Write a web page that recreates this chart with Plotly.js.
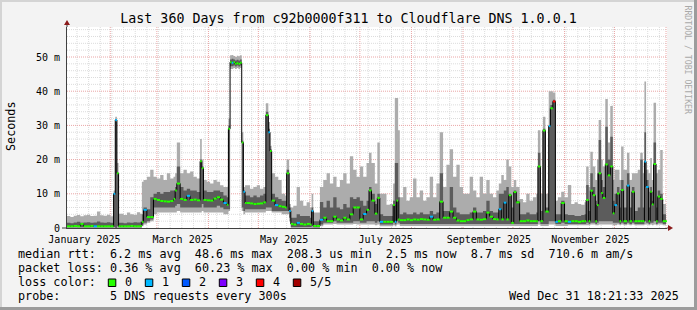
<!DOCTYPE html>
<html><head><meta charset="utf-8">
<script src="https://cdn.plot.ly/plotly-3.0.1.min.js"></script>
<style>html,body{margin:0;padding:0;background:#f3f3f3}#chart{width:697px;height:310px}</style>
</head><body><div id="chart"></div>
<script>
// ---- data (day offsets from 2025-01-06, values in ms) ----
const day = [
 0,2,4,6,8,10,12,14,16,18,20,22,24,26,
 28,29,30,31,
 32,34,36,38,40,42,44,
 45,46,48,50,
 52,54,56,58,60,62,64,65,66,68,70,72,74,76,78,80,81,82,84,86,88,90,92,94,96,
 97,98,99,100,101,102,103,104,105,106,107,
 108,110,112,114,116,118,
 119.5,121,122,
 123,125,127,129,131,132,133.5,
 134.5,136,138,140,142,144,146,147,148,150,152,154,156,158,160,162,164,166,168,170,172,174,176,178,180,
 181.5,183,185,186.5,188,190,192,194,196,197,198,199,
 200,202,204,206,208,210,212,214,216,218,220,222,224,226,228,230,232,234,236,238,
 240,242,244,246,248,250,252,254,256,258,259.5,261,262.5,264,265.5,267,268.5,270,272,274,276,278,280,282,
 283,284.5,286,287.5,289.5,290.5,292,293.5,295,297,299,
 301,303,305,307,309,311,312,313.5,314.5,316,317.5,318.5,319.5,321,322,323.5,325,326.5,328,329,330.5,332,333,334.5,336.5,338,339.5,341,343,344.5,346,347,348,349.5,350.5,351.5,352.5,354,355,356.5,358,360
];
const median = [
 0.5,0.5,0.6,0.5,1.2,0.5,0.5,0.6,0.5,0.5,0.5,0.5,0.5,0.5,
 10,31.6,16,0.5,
 0.5,0.5,0.5,0.6,0.5,0.5,0.6,
 1.8,5.3,3.2,3.2,
 8.5,8.2,7.9,7.8,7.7,7.9,8.5,11,13,8.5,8.2,9.4,8.2,8.3,8.1,19.5,17.5,8.2,8.1,8.0,8.6,9,8.3,7.3,6.8,
 29,48.5,48.3,48.5,48,48.2,48,48.3,25,10.6,7.3,
 7.3,7.2,7.0,7.1,7.2,7.5,
 33,28,22.5,
 8,6.7,6.4,6.2,6.0,16,5,
 1.2,1.0,1.5,1.2,1.0,1.2,1.0,5,0.6,0.6,2.4,3,2,2,3.3,2.5,2.2,3,2.5,4,6,6,2.5,4.1,5.3,
 11,8,4.2,8.8,1.8,1.8,1.8,1.8,6.7,1.8,8,2.5,
 2.3,2.3,2.5,2.3,2.5,2.4,2.6,2.5,2.4,3.3,2.4,2.5,7.7,3,3,4.8,3,2.2,2,2,
 2.3,2.5,4.8,2.5,2.4,2.6,4.5,3.3,2.6,2.5,5.5,2.5,7.4,2.5,9.6,1.5,10.5,7.5,2.0,2.0,2.2,2.0,2.0,2.0,
 18,2,28.5,4.8,29.8,35,37,1.8,2,7.3,2,
 1.8,2,2,1.8,2,2,8.2,2,10.9,9.6,2,6.7,16,10.2,8.8,18.6,15.4,18,4.3,6.7,10.1,2,11.1,2,12.4,2,10.6,2,2,2,2,19.4,12,2,10.6,6.9,18.7,2,9.2,8.5,2,2
];
const lossCount = [
 0,0,0,0,0,0,0,0,1,0,0,0,0,0,
 1,1,0,0,
 0,0,0,0,0,0,0,
 0,1,0,0,
 0,0,0,0,0,0,0,0,0,0,0,1,0,0,0,0,0,0,0,0,0,0,0,1,0,
 0,0,1,0,0,0,0,0,0,1,0,
 0,0,0,0,0,0,
 0,1,0,
 0,1,0,0,0,0,1,
 0,0,1,0,0,0,0,1,0,0,1,0,0,0,0,0,0,0,0,0,0,0,0,1,0,
 0,0,0,0,1,0,0,0,0,1,0,0,
 0,0,0,0,0,0,0,0,0,1,0,0,0,0,0,0,0,0,0,0,
 0,0,0,0,0,0,0,0,0,0,1,0,1,0,0,0,0,0,0,0,0,0,0,0,
 0,0,0,0,1,0,4,1,0,0,0,
 1,0,0,0,0,0,0,0,0,0,0,0,0,0,0,0,0,0,0,1,0,0,0,0,1,0,0,0,0,0,0,1,1,0,0,0,0,0,0,0,0,0
];
const smokeLightLo = [
 0,0,0,0,0,0,0,0,0,0,0,0,0,0,
 0,0,0,0,
 0,0,0,0,0,0,0,
 0.5,1,1.5,2,
 4,4.5,4.5,4.5,4.5,4.5,4.5,4.5,5,4.5,4.5,4.5,4.5,4.5,4.5,4.5,5,4.5,4.5,4.5,4.5,4.5,4.5,4,4,
 5,46.5,46.5,46.8,46.5,46.8,46.5,46.8,5,4,4.5,
 4.5,4.5,4.5,4.5,4.5,4.5,
 5,5,5,
 4.5,4.5,4.5,4,4,4,2,
 0,0,0,0,0,0,0,0,0,0,0.5,1,1,1,1.2,1,1,1,1,1,1.2,1,1,1,1,
 1,1,0.8,1,0.5,0.5,0.5,0.5,0.8,0.5,1,1,
 0.6,0.6,0.6,0.6,0.6,0.6,0.6,0.6,0.6,0.6,0.6,0.6,0.6,0.6,0.6,0.6,0.6,0.6,0.6,0.6,
 0.6,0.6,0.6,0.6,0.6,0.6,0.6,0.6,0.6,0.6,0.6,0.6,0.6,0.6,0.6,0.6,0.6,0.6,0.6,0.6,0.6,0.6,0.6,0.6,
 1,0.6,0.6,0.6,1,1,1,0.6,0.6,0.6,0.6,
 0.8,0.8,0.8,0.8,0.8,0.8,0.8,0.8,1,1,0.8,0.8,1,1,1,1,1,1,0.8,0.8,1,0.8,1,0.8,1,0.8,1,0.8,0.8,0.8,0.8,1,1,0.8,1,0.8,1,0.8,1,1,0.8,0.8
];
const smokeDarkLo = [
 0.2,0.2,0.2,0.2,0.2,0.2,0.2,0.2,0.2,0.2,0.2,0.2,0.2,0.2,
 0.3,0,0.5,0.2,
 0.2,0.2,0.2,0.2,0.2,0.2,0.2,
 1,1.5,2,2.5,
 6,6,6,6,6,6,6,6.5,7,6,6,6,6,6,6,6,7,6,6,6,6,6.5,6,5.5,5.5,
 5.5,47.3,47.3,47.5,47.2,47.5,47.2,47.5,6,5,5.5,
 5.5,5.5,5.5,5.5,5.5,5.5,
 6,6,6,
 5,5,5,5,5,5,3,
 0.3,0.3,0.3,0.3,0.3,0.3,0.3,0.5,0.2,0.2,1,1.5,1.5,1.5,2,1.5,1.5,1.5,1.5,1.5,2,2,1.5,1.5,2,
 2,2,1.5,2,1,1,1,1,1.5,1,2,1.5,
 1.2,1.2,1.2,1.2,1.2,1.2,1.2,1.2,1.2,1.2,1.2,1.2,1.2,1.2,1.2,1.2,1.2,1.2,1.2,1.2,
 1.2,1.2,1.2,1.2,1.2,1.2,1.2,1.2,1.2,1.2,1.2,1.2,1.2,1.2,1.2,1.2,1.2,1.2,1.2,1.2,1.2,1.2,1.2,1.2,
 2,1.2,1.2,1.2,2,2,2,1.2,1.2,1.5,1.2,
 1.2,1.2,1.2,1.2,1.2,1.2,1.5,1.2,1.5,1.5,1.2,1.5,2,2,2,2,2,2,1.5,1.5,1.5,1.2,1.5,1.2,1.5,1.2,1.5,1.2,1.2,1.2,1.2,2,1.5,1.2,1.5,1.5,2,1.2,1.5,1.5,1.2,1.2
];
const smokeDarkHi = [
 1.5,1.4,1.6,1.8,1.5,1.6,1.7,1.5,1.6,1.9,1.6,1.5,1.7,1.5,
 10,31,16,1.5,
 1.5,1.4,1.6,1.5,1.7,1.6,1.8,
 4,6,5.5,9,
 10,10.5,10,10.5,10.5,11,11,12,18,12,11,11.5,11,11,10.5,20,18,11,10.5,10.5,11,11,10.5,9.5,9,
 30,49.3,49.5,49.3,49,49.2,49,49.3,25.5,11,9.5,
 9.5,9,9.5,9,9.5,10,
 34,29,23,
 10,9,8.5,8,8,17,6,
 3,3,4,3.5,3.5,3.5,3,6,2,2,7.6,6,8,6,9,6,5.5,7,6,9,8.5,9,8,6.5,8,
 12,10,7,10,4,3.5,3.5,3.5,8,19,19,9,
 4,4.5,4,4,4.5,4,4.5,4,4,5,4,4.5,16,5,5,12,6,4.5,4,4,
 4,4.5,6,4.5,4.5,5,8,5,4.5,4.5,10,10,11,12,10,6,11,8,4,4,4.5,4,4,4.5,
 22,5,29,6,30,36,37.5,4,4,8,4,
 3.8,3.8,3.5,3.5,3.8,4,12.6,5,16,12,8,16,25.7,14,12,29.6,20,26.7,8,10,12,6,14,6,16,6,12,5,6,20,6,28,14,6,12,8,25,6,11,10,4,4
];
const smokeLightHi = [
 3.5,3.2,3.6,3.8,3.4,3.7,3.9,3.5,3.6,4.8,3.7,3.6,3.9,3.4,
 11,32.5,19,4.2,
 4.2,3.8,4.5,4.0,3.9,4.6,4.2,
 13.5,14,15,17,
 15,14.5,15.5,14,16,14.5,15,16,25,16,17,16,16.5,15,14.5,26,20,14,13.5,13,14,13.5,12.5,12,12,
 32,50.5,50.6,50.3,50,50.4,50.2,50.5,28,12,12.5,
 12.5,11.5,12,12.5,11.5,12,
 36.5,31,24,
 16,15,14,10,9.5,20,7,
 6,6.5,12,8,6.5,7.5,6,10,4.5,4.5,12,14,16,13,15,12,14,16,13,21,17,15,18,15,19,
 22,19,13,25,10,10,6.8,7,13,38,38,28.6,
 9,12,8,9,14.5,9,11,8,9,15,9,13,28,12,18.5,23,15,18.5,12,10,
 10,15,11,9,15,10,14,10,9,11,13,15.5,14,20,18,12,14,12,8.5,7.5,10,8,9,10,
 28.6,10,32.5,10,40,40,39.6,8,9,10.6,9,
 12.6,7,7.5,7,6.8,7.5,18,12,22.3,18,14,20,31.6,20,18,37.7,25,35.7,14,17,17,14,23.8,17,22,14,16,16,17,22,16,42.8,17,16,20.5,14,36.6,16,17,22.8,7,7
];
const monthTickVals = ['2025-01-16 12:00','2025-03-16 12:00','2025-05-16 12:00','2025-07-16 12:00','2025-09-16 12:00','2025-11-16 12:00'];
const monthTickText = ['January 2025','March 2025','May 2025','July 2025','September 2025','November 2025'];
const yTickVals = [0,10,20,30,40,50];
const yTickText = ['0','10 m','20 m','30 m','40 m','50 m'];
const lossLabels = ['0','1','2','3','4','5/5'];
const lossColors = ['#26ff00','#00b8ff','#0059ff','#7e00ff','#ff0000','#a10000'];

// ---- helpers ----
const startMs = Date.UTC(2025,0,6);
const fmt = ms => new Date(ms).toISOString().replace('T',' ').replace('Z','');
const toDate = d => fmt(startMs + d*864e5);
const xs = day.map(toDate);
const endMs = startMs + (600/1.664)*864e5;
const xStart = toDate(0), xEnd = fmt(endMs);
const YMAX = 201/3.42;
const W=697,H=310,ML=67,MR=30,MT=27,MB=82,PW=W-ML-MR,PH=H-MT-MB;
const px = x => (x-ML)/PW, py = y => (MT+PH-y)/PH;
const nb = s => s.replace(/ /g,'\u00a0');
const FONT = 'DejaVu Sans Mono';

const traces = [];
traces.push({x:xs,y:smokeLightLo,mode:'lines',line:{width:0,shape:'hv'},hoverinfo:'skip'});
traces.push({x:xs,y:smokeLightHi,mode:'lines',line:{width:0,shape:'hv'},fill:'tonexty',fillcolor:'#acacac',hoverinfo:'skip'});
traces.push({x:xs,y:smokeDarkLo,mode:'lines',line:{width:0,shape:'hv'},hoverinfo:'skip'});
traces.push({x:xs,y:smokeDarkHi,mode:'lines',line:{width:0,shape:'hv'},fill:'tonexty',fillcolor:'#5c5c5c',hoverinfo:'skip'});
traces.push({x:xs,y:median,mode:'lines',line:{width:1,color:'#000',shape:'hv'},hoverinfo:'skip'});
for(let L=0;L<lossColors.length;L++){
  const sx=[],sy=[];
  for(let i=0;i<day.length;i++){
    if(lossCount[i]!==L) continue;
    const x1 = i+1<day.length ? xs[i+1] : toDate(day[i]+2);
    sx.push(xs[i],x1,null); sy.push(median[i],median[i],null);
  }
  if(sx.length) traces.push({x:sx,y:sy,mode:'lines',line:{width:2,color:lossColors[L]},hoverinfo:'skip',connectgaps:false});
}

const MG = '#eaa6a6', mg = '#dcdcdc', DASH = '1px,1px';
const shapes = [];
// grid (styling): weekly + every 2 ms minor, monthly + every 10 ms major
for(let t=Date.UTC(2025,0,12); t<endMs; t+=7*864e5)
  shapes.push({type:'line',xref:'x',yref:'paper',x0:fmt(t),x1:fmt(t),y0:0,y1:1,line:{color:mg,width:1,dash:DASH},layer:'below'});
for(let v=2; v<YMAX; v+=2) if(v%10)
  shapes.push({type:'line',xref:'paper',yref:'y',x0:0,x1:1,y0:v,y1:v,line:{color:mg,width:1,dash:DASH},layer:'below'});
for(let m=1; m<=12; m++){
  const t = Date.UTC(2025,m,1);
  if(t<endMs) shapes.push({type:'line',xref:'x',yref:'paper',x0:fmt(t),x1:fmt(t),y0:0,y1:1,line:{color:MG,width:1,dash:DASH},layer:'below'});
}
for(let v=10; v<YMAX; v+=10)
  shapes.push({type:'line',xref:'paper',yref:'y',x0:0,x1:1,y0:v,y1:v,line:{color:MG,width:1,dash:DASH},layer:'below'});
// frame
shapes.push({type:'rect',xref:'paper',yref:'paper',x0:px(0),x1:px(W),y0:py(0),y1:py(2),fillcolor:'#d4d4d4',line:{width:0},layer:'above'});
shapes.push({type:'rect',xref:'paper',yref:'paper',x0:px(0),x1:px(2),y0:py(0),y1:py(H),fillcolor:'#d4d4d4',line:{width:0},layer:'above'});
shapes.push({type:'rect',xref:'paper',yref:'paper',x0:px(0),x1:px(W),y0:py(H-3),y1:py(H),fillcolor:'#9c9c9c',line:{width:0},layer:'above'});
shapes.push({type:'rect',xref:'paper',yref:'paper',x0:px(W-3),x1:px(W),y0:py(0),y1:py(H),fillcolor:'#9c9c9c',line:{width:0},layer:'above'});
// axis arrows
shapes.push({type:'line',xref:'paper',yref:'paper',x0:px(ML),x1:px(ML),y0:py(MT),y1:py(MT-3),line:{color:'#404040',width:1}});
shapes.push({type:'path',xref:'paper',yref:'paper',path:`M${px(ML-3)},${py(MT-2)} L${px(ML+3)},${py(MT-2)} L${px(ML)},${py(MT-7)} Z`,fillcolor:'#8b1a1a',line:{width:0}});
shapes.push({type:'line',xref:'paper',yref:'paper',x0:px(ML+PW),x1:px(ML+PW+2),y0:py(MT+PH),y1:py(MT+PH),line:{color:'#404040',width:1}});
shapes.push({type:'path',xref:'paper',yref:'paper',path:`M${px(ML+PW+1)},${py(MT+PH-3)} L${px(ML+PW+1)},${py(MT+PH+3)} L${px(ML+PW+6)},${py(MT+PH)} Z`,fillcolor:'#8b1a1a',line:{width:0}});
shapes.push({type:'line',xref:'paper',yref:'paper',x0:px(ML-5),x1:px(ML),y0:py(MT+PH),y1:py(MT+PH),line:{color:'#404040',width:1}});

const annotations = [];
const legendFont = {family:FONT,size:11.75,color:'#000'};
const lines = [
 ['median rtt:  6.2 ms avg  48.6 ms max  208.3 us min  2.5 ms now  8.7 ms sd  710.6 m am/s',254],
 ['packet loss: 0.36 % avg  60.23 % max  0.00 % min  0.00 % now',268],
 ['loss color:',282],
 ['probe:       5 DNS requests every 300s',296]
];
lines.forEach(([t,y])=>annotations.push({text:nb(t),xref:'paper',yref:'paper',x:px(16),y:py(y),xanchor:'left',yanchor:'middle',showarrow:false,font:legendFont}));
annotations.push({text:nb('Wed Dec 31 18:21:33 2025'),xref:'paper',yref:'paper',x:px(681),y:py(296),xanchor:'right',yanchor:'middle',showarrow:false,font:legendFont});
lossLabels.forEach((lab,i)=>{
  const x0 = 108.3 + 37*i;
  shapes.push({type:'rect',xref:'paper',yref:'paper',x0:px(x0),x1:px(x0+7.5),y0:py(279),y1:py(286.5),fillcolor:lossColors[i],line:{color:'#000',width:1},layer:'above'});
  annotations.push({text:lab,xref:'paper',yref:'paper',x:px(x0+15),y:py(282),xanchor:'left',yanchor:'middle',showarrow:false,font:legendFont});
});
annotations.push({text:'Seconds',xref:'paper',yref:'paper',x:px(11),y:py(126),textangle:-90,xanchor:'center',yanchor:'middle',showarrow:false,font:{family:FONT,size:11.75,color:'#000'}});
annotations.push({text:nb('RRDTOOL / TOBI OETIKER'),xref:'paper',yref:'paper',x:px(687.5),y:py(60),textangle:90,xanchor:'center',yanchor:'middle',showarrow:false,font:{family:FONT,size:8.2,color:'#a9a9a9'}});

const layout = {
  width:W,height:H,margin:{l:ML,r:MR,t:MT,b:MB,pad:0},
  paper_bgcolor:'#f3f3f3',plot_bgcolor:'#ffffff',showlegend:false,
  font:{family:FONT,size:10,color:'#000'},
  title:{text:'Last 360 Days from c92b0000f311 to Cloudflare DNS 1.0.0.1',font:{family:FONT,size:13.3,color:'#000'},xref:'container',x:0.5,xanchor:'center',yref:'container',y:1-18/H,yanchor:'middle'},
  xaxis:{type:'date',range:[xStart,xEnd],tickmode:'array',tickvals:monthTickVals,ticktext:monthTickText,showgrid:false,
    ticks:'',showline:true,linecolor:'#404040',linewidth:1,zeroline:false,tickfont:{family:FONT,size:10,color:'#000'},ticklabelstandoff:2},
  yaxis:{range:[0,YMAX],tickmode:'array',tickvals:yTickVals,ticktext:yTickText,showgrid:false,
    zeroline:false,showline:true,linecolor:'#404040',linewidth:1,ticks:'',ticklabelstandoff:4,tickfont:{family:FONT,size:10,color:'#000'}},
  shapes:shapes,annotations:annotations
};
Plotly.newPlot('chart',traces,layout,{displayModeBar:false,staticPlot:true});
</script></body></html>
